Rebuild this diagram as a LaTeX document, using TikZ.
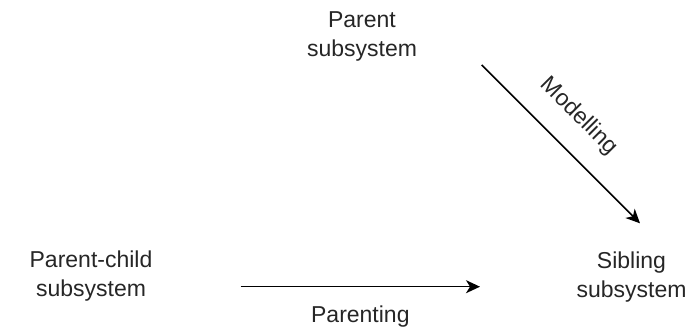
\documentclass[tikz,border=0pt]{standalone}
\usepackage{fontspec}
\setmainfont{Liberation Sans}
\usetikzlibrary{arrows.meta}
\begin{document}
        \begin{tikzpicture}[x=1pt,y=-1pt,
            txt/.style={align=center,text=black!85,font=\fontsize{23}{29}\selectfont},
            lbl/.style={inner sep=0pt,text=black!85,font=\fontsize{23}{29}\selectfont,text height=16.8pt,text depth=4.8pt},
            arr/.style={draw,line width=1.5pt,-{Stealth[length=14pt,width=13pt,inset=4pt]}}]
            \useasboundingbox (0,0) rectangle (697,329);
            \node[txt] at (362,36)(parent){Parent\\subsystem};
            \node[txt] at (91,276.5)(pchild){Parent-child\\subsystem};
            \node[txt] at (631.5,277)(sibling){Sibling\\subsystem};
            \coordinate (modA) at (481.7,65);
            \coordinate (modB) at (640,223.3);
            \coordinate (parA) at (240.7,286.7);
            \coordinate (parB) at (480,286.7);
            %\path[draw] (parent) -- (sibling);
            \path[arr] (modA) -- node[lbl,sloped,pos=.468,above=21pt](modlbl){Modelling} (modB);
            \path[arr] (parA) -- node[lbl,below=18.5pt](parlbl){Parenting} (parB);
        \end{tikzpicture}
\end{document}
